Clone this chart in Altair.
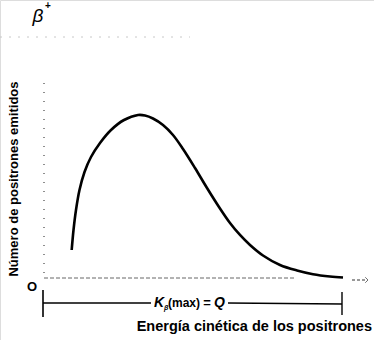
import altair as alt
import pandas as pd

# Curve: kinetic energy (fraction of Q) vs number of emitted positrons (relative)
energy = [0.0926, 0.0987, 0.1070, 0.1187, 0.1355, 0.1572, 0.1873, 0.2241,
          0.2676, 0.3144, 0.3378, 0.3645, 0.3980, 0.4314, 0.4649, 0.5050,
          0.5452, 0.5853, 0.6221, 0.6555, 0.6890, 0.7324, 0.7893, 0.8462,
          0.8997, 0.9565, 1.0000]
counts = [0.1414, 0.2424, 0.3434, 0.4444, 0.5354, 0.6111, 0.6818, 0.7475,
          0.7980, 0.8232, 0.8207, 0.8056, 0.7727, 0.7222, 0.6515, 0.5556,
          0.4545, 0.3586, 0.2778, 0.2172, 0.1667, 0.1136, 0.0657, 0.0379,
          0.0192, 0.0076, 0.0025]

y_title = "Número de positrones emitidos"
x_title = "Energía cinética de los positrones"
origin_label = "O"
beta_label = "β"
kmax_parts = ["K", "β", "(max)", "=", "Q"]

W, H = 374, 340
xs = alt.Scale(domain=[-44 / 299, 330 / 299], nice=False, zero=False)
ys = alt.Scale(domain=[-62 / 198, 278 / 198], nice=False, zero=False)

curve_df = pd.DataFrame({"e": energy, "n": counts})
one = pd.DataFrame({"a": [0]})

curve = alt.Chart(curve_df).mark_line(
    interpolate="catmull-rom", color="black", strokeWidth=2.6, clip=False
).encode(
    x=alt.X("e:Q", scale=xs, axis=None),
    y=alt.Y("n:Q", scale=ys, axis=None),
)

def rule(x1, y1, x2, y2, color="black", width=1.0, dash=None):
    kw = dict(color=color, strokeWidth=width)
    if dash is not None:
        kw["strokeDash"] = dash
    return alt.Chart(one).mark_rule(**kw).encode(
        x=alt.value(x1), y=alt.value(y1), x2=alt.value(x2), y2=alt.value(y2)
    )

def text(s, x, y, size, weight="normal", style="normal", align="center",
         angle=0, font="Liberation Sans", color="black"):
    return alt.Chart(one).mark_text(
        text=s, fontSize=size, fontWeight=weight, fontStyle=style,
        align=align, baseline="middle", angle=angle, font=font, color=color
    ).encode(x=alt.value(x), y=alt.value(y))

layers = [
    # faint scan line at top
    rule(0, 37, 190, 37, color="#c8c8c8", width=1, dash=[2, 7]),
    # y axis (dotted)
    rule(44, 83, 44, 278, color="#444444", width=1.2, dash=[1, 8]),
    # baseline (dotted)
    rule(44, 278, 295, 278, color="#666666", width=1.0, dash=[4, 2]),
    # arrow continuation
    rule(352, 280, 367, 280, color="#333333", width=1.0, dash=[3, 2]),
    alt.Chart(one).mark_point(
        shape="M-1,-1L0,0L-1,1", filled=False, size=30, color="#333333",
        strokeWidth=1
    ).encode(x=alt.value(368), y=alt.value(280)),
    curve,
    # bracket K(max) = Q
    rule(43, 290, 43, 317, width=1.6),
    rule(342, 292, 342, 315, width=1.4),
    rule(43, 303, 151, 303, width=1.6),
    rule(228, 303, 342, 304, width=1.6),
    text(kmax_parts[0], 154, 303, 14, weight="bold", style="italic", align="left"),
    text(kmax_parts[1], 164, 308, 7, weight="bold", style="italic", align="left"),
    text(kmax_parts[2], 168, 303, 12, weight="bold", align="left"),
    text(kmax_parts[3], 207, 303, 13, weight="bold"),
    text(kmax_parts[4], 214, 303, 14, weight="bold", style="italic", align="left"),
    # titles
    text(y_title, 14, 179, 13, weight="bold", angle=270),
    text(x_title, 372, 327, 14.5, weight="bold", align="right"),
    text(origin_label, 32, 287, 13, weight="bold"),
    text(beta_label, 38, 16, 19, style="italic"),
    text("+", 48, 6, 10, weight="bold"),
]

chart = alt.layer(*layers).properties(
    width=W, height=H, autosize=alt.AutoSizeParams(type="none"), padding=0
).configure_view(stroke=None).configure(background="white")

chart.save("out.html", embed_options={"renderer": "svg", "actions": False})
